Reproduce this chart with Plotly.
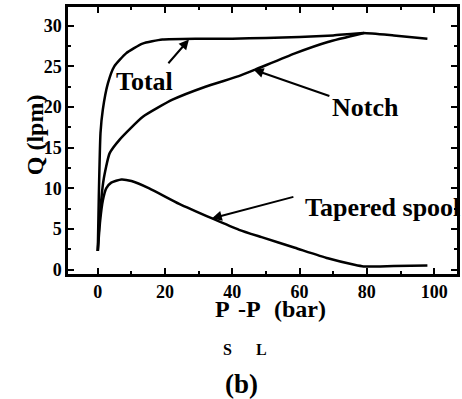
import plotly.graph_objects as go

# ---- data ----
x_total = [0, 0.3, 0.8, 1.5, 3, 4.9, 8.4, 13.3, 19.2, 30, 40, 50, 60, 70, 79, 88, 98]
q_total = [2.3, 9, 16.8, 19.7, 22.9, 25.0, 26.6, 27.8, 28.3, 28.4, 28.4, 28.5, 28.6, 28.8, 29.1, 28.8, 28.4]

x_notch = [0, 0.5, 1.7, 3.5, 6.5, 13.4, 22.2, 32, 41.9, 46.8, 58.6, 68.4, 79.2]
q_notch = [2.3, 6.0, 11.0, 14.3, 16.0, 18.8, 20.9, 22.5, 23.8, 24.6, 26.6, 28.0, 29.1]

x_taper = [0, 0.7, 1.5, 2.5, 4, 7, 10, 15.3, 24.2, 34, 42, 48.7, 58.6, 68.4, 76.3, 79, 88, 98]
q_taper = [2.3, 6.0, 8.5, 10.0, 10.7, 11.1, 10.9, 10.0, 8.1, 6.3, 4.9, 4.0, 2.7, 1.4, 0.6, 0.4, 0.45, 0.5]

x_ticks = [0, 20, 40, 60, 80, 100]
y_ticks = [0, 5, 10, 15, 20, 25, 30]
x_minor = [10, 30, 50, 70, 90]
y_minor = [2.5, 7.5, 12.5, 17.5, 22.5, 27.5]

X_RANGE = [-8.86, 106.8]
Y_RANGE = [-0.53, 32.3]

W, H = 462, 399
ML, MR, MT, MB = 68, 2, 7, 125
PW, PH = W - ML - MR, H - MT - MB

def px(xp):
    return (xp - ML) / PW

def py(yp):
    return (H - MB - yp) / PH

def b(t):
    return "<b>" + t + "</b>"

SERIF = "Liberation Serif"

fig = go.Figure()
for xs, ys, nm in [(x_total, q_total, "Total"), (x_notch, q_notch, "Notch"), (x_taper, q_taper, "Tapered spool")]:
    fig.add_trace(go.Scatter(x=xs, y=ys, mode="lines", name=nm, showlegend=False,
                             line=dict(color="black", width=2.5, shape="spline", smoothing=0.5)))
# invisible trace that carries the minor-tick overlay axes
fig.add_trace(go.Scatter(x=x_total, y=q_total, xaxis="x2", yaxis="y2", mode="lines", showlegend=False,
                         line=dict(width=0, color="rgba(0,0,0,0)"), hoverinfo="skip"))

tf = dict(family=SERIF, size=18, color="black")
major = dict(showgrid=False, zeroline=False, showline=True, linecolor="black", linewidth=2.5,
             mirror="ticks", ticks="inside", ticklen=6, tickwidth=2, tickcolor="black", tickfont=tf)
minor_ax = dict(showgrid=False, zeroline=False, showline=False, mirror="ticks", ticks="inside",
                ticklen=3, tickwidth=1.5, tickcolor="black", showticklabels=False)

fig.update_layout(
    xaxis=dict(range=X_RANGE, tickvals=x_ticks, ticktext=[b(str(v)) for v in x_ticks], **major),
    yaxis=dict(range=Y_RANGE, tickvals=y_ticks, ticktext=[b(str(v)) for v in y_ticks], **major),
    xaxis2=dict(range=X_RANGE, tickvals=x_minor, overlaying="x", side="bottom", anchor="y2", **minor_ax),
    yaxis2=dict(range=Y_RANGE, tickvals=y_minor, overlaying="y", side="left", anchor="x2", **minor_ax),
)

lab = dict(family=SERIF, size=26, color="black")
anns = []
anns.append(dict(x=13.8, y=23.1, xref="x", yref="y", text=b("Total"), showarrow=False, font=lab))
anns.append(dict(x=79.6, y=19.9, xref="x", yref="y", text=b("Notch"), showarrow=False, font=lab))
anns.append(dict(x=61.0, y=7.7, xref="x", yref="y", text=b("Tapered spool"), showarrow=False,
                 xanchor="left", font=lab))
for (tx, ty, ax, ay) in [(27.1, 28.3, 20.6, 25.2), (46.3, 24.6, 69.3, 21.3), (33.9, 6.3, 58.6, 9.0)]:
    anns.append(dict(x=tx, y=ty, ax=ax, ay=ay, xref="x", yref="y", axref="x", ayref="y",
                     text="", showarrow=True, arrowhead=2, arrowsize=1, arrowwidth=2, arrowcolor="black"))

ttl = dict(family=SERIF, size=24, color="black")
sub = dict(family=SERIF, size=16, color="black")
for t, xc, yc, f in [("P", 223.5, 309, ttl), ("-P", 251, 309, ttl), ("(bar)", 301.5, 309, ttl),
                     ("S", 229, 349, sub), ("L", 263, 349, sub),
                     ("(b)", 243, 384, dict(family=SERIF, size=27, color="black"))]:
    anns.append(dict(x=px(xc), y=py(yc), xref="paper", yref="paper", text=b(t), showarrow=False,
                     xanchor="center", yanchor="middle", font=f))
anns.append(dict(x=px(35), y=py(135), xref="paper", yref="paper", text=b("Q (lpm)"), showarrow=False,
                 textangle=-90, xanchor="center", yanchor="middle", font=ttl))

fig.update_layout(width=W, height=H, margin=dict(l=ML, r=MR, t=MT, b=MB),
                  paper_bgcolor="white", plot_bgcolor="white", annotations=anns)
fig.write_html("out.html")
